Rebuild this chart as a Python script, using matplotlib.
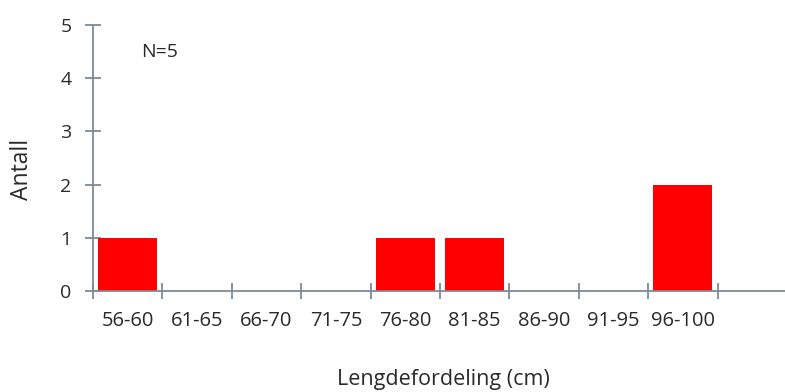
import numpy as np
import matplotlib.pyplot as plt

plt.rcParams['font.family'] = ['Open Sans', 'DejaVu Sans']

# length classes (cm) and number of fish in each
classes = ['56-60', '61-65', '66-70', '71-75', '76-80', '81-85', '86-90', '91-95', '96-100', '']
counts = [1, 0, 0, 0, 1, 1, 0, 0, 2, 0]

axis_col = '#7d8a96'
text_col = '#2a2a2a'

fig = plt.figure(figsize=(7.85, 3.92), dpi=100)
ax = fig.add_axes([93 / 785, 1 - 291 / 392, 694 / 785, 266 / 392])

x = np.arange(len(classes))
ax.bar(x, counts, width=0.85, color='#ff0000', edgecolor='none', zorder=2)

ax.set_xlim(-0.5, len(classes) - 0.5)
ax.set_ylim(0, 5)

for s in ['top', 'right']:
    ax.spines[s].set_visible(False)
for s in ['left', 'bottom']:
    ax.spines[s].set_color(axis_col)
    ax.spines[s].set_linewidth(1.3)

# category boundaries get the tick marks, labels sit between them
ax.set_xticks(np.arange(len(classes) + 1) - 0.5)
ax.set_xticklabels([])
ax.set_xticks(x, minor=True)
ax.set_xticklabels(classes, minor=True)
ax.tick_params(axis='x', which='major', direction='inout', length=11, width=1.3, color=axis_col)
ax.tick_params(axis='x', which='minor', length=0, pad=14.5, labelsize=14.5, labelcolor=text_col)

ax.set_yticks(range(6))
ax.tick_params(axis='y', direction='inout', length=11, width=1.3, color=axis_col,
               pad=10, labelsize=14, labelcolor=text_col)

fig.text(22 / 785, 1 - 169 / 392, 'Antall', rotation=90, fontsize=16.5,
         color=text_col, ha='center', va='center')
fig.text(443 / 785, 1 - 385 / 392, 'Lengdefordeling (cm)', fontsize=15.5,
         color=text_col, ha='center', va='baseline')

ax.text(0.07, 0.9, 'N=5', transform=ax.transAxes, fontsize=14,
        color=text_col, ha='left', va='center')

fig.savefig('out.png', dpi=100)
